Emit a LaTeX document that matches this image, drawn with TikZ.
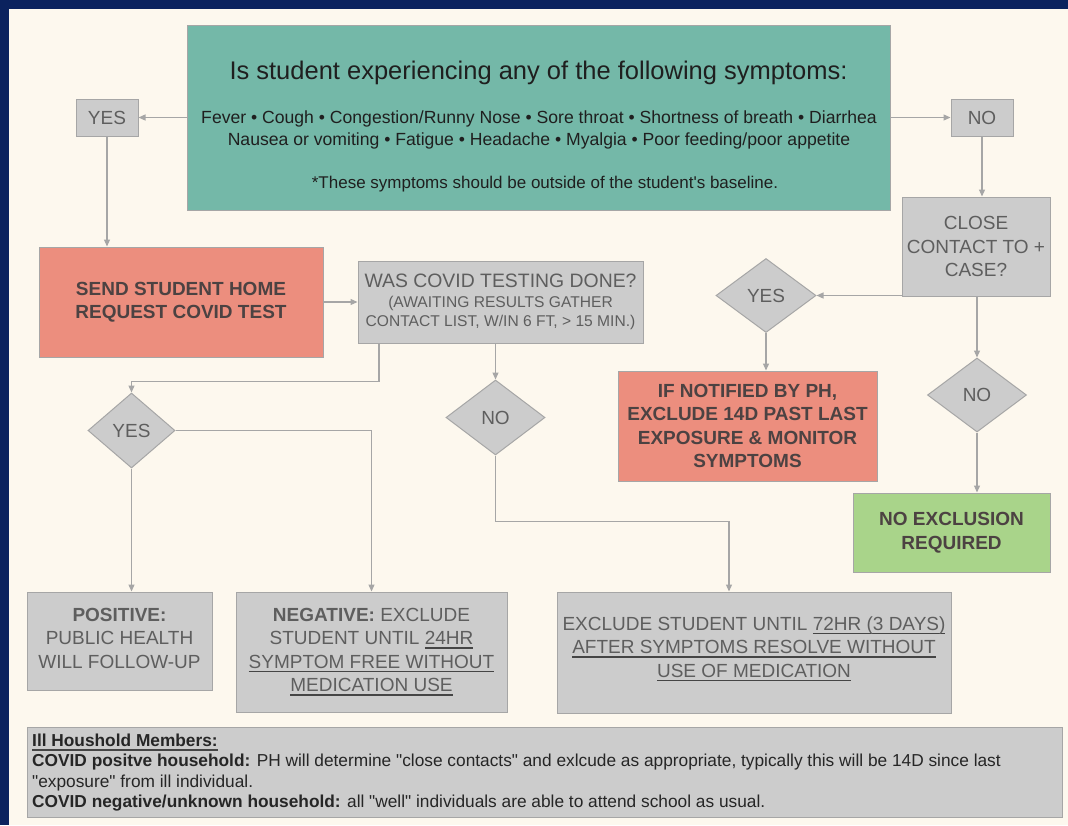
\documentclass[tikz,border=0pt]{standalone}
\usepackage{fontspec}
\setmainfont{Liberation Sans}[Ligatures=TeXOff]
\usetikzlibrary{shapes.geometric,arrows.meta}
\definecolor{navy}{HTML}{0B225E}
\definecolor{cream}{HTML}{FDF8EE}
\definecolor{teal1}{HTML}{74B8A8}
\definecolor{salmon}{HTML}{EC8E7E}
\definecolor{gbox}{HTML}{CCCCCC}
\definecolor{gline}{HTML}{A6A6A6}
\definecolor{green1}{HTML}{A9D48A}
\definecolor{gtext}{HTML}{5E5E5E}
\definecolor{dtext}{HTML}{4C4242}
\definecolor{uline}{HTML}{454545}
\newcommand{\ulx}[1]{\setbox0\hbox{#1}\rlap{\textcolor{uline}{\vrule height -2.2pt depth 3.8pt width \wd0}}\box0}
\tikzset{
  box/.style={draw=gline, line width=1pt, inner sep=0pt, align=center},
  graybox/.style={box, fill=gbox, text=gtext, font=\fontsize{19}{23.5}\selectfont},
  redbox/.style={box, fill=salmon, text=dtext, font=\fontsize{19}{23.3}\selectfont\bfseries},
  dia/.style={diamond, draw=gline, line width=1pt, fill=gbox, inner sep=0pt, text=gtext, font=\fontsize{19}{22}\selectfont},
  arr/.style={draw=gline, line width=1.2pt, -{Triangle[length=7pt,width=6pt]}},
}
\begin{document}
\begin{tikzpicture}[x=1pt,y=-1pt]
\useasboundingbox (0,0) rectangle (1068,825);
\fill[navy] (0,0) rectangle (1068,825);
\fill[cream] (9,9) rectangle (1068,825);

% teal box
\node[box, fill=teal1, minimum width=703pt, minimum height=185pt] (teal) at (538.5,117.5) {};
\node[text=black!88, font=\fontsize{25.5}{30}\selectfont] (title) at (538.5,73) {Is student experiencing any of the following symptoms:};
\node[text=black!88, font=\fontsize{17.6}{22}\selectfont, align=center] (sym) at (539,130) {Fever • Cough • Congestion/Runny Nose • Sore throat • Shortness of breath • Diarrhea\\Nausea or vomiting • Fatigue • Headache • Myalgia • Poor feeding/poor appetite};
\node[text=black!88, font=\fontsize{17}{20}\selectfont] (note) at (545,184) {*These symptoms should be outside of the student's baseline.};

% top yes/no
\node[graybox, minimum width=62pt, minimum height=37pt] (yes) at (107,117.5) {YES};
\node[graybox, minimum width=62pt, minimum height=37pt] (no) at (982,117.5) {NO};

% left branch
\node[redbox, minimum width=284pt, minimum height=110pt] (send) at (181,302) {SEND STUDENT HOME\\REQUEST COVID TEST};
\node[graybox, minimum width=285pt, minimum height=82pt, font=\fontsize{15.6}{19.3}\selectfont] (was) at (500.5,302)
  {{\fontsize{19.4}{22}\selectfont WAS COVID TESTING DONE?}\\
   (AWAITING RESULTS GATHER\\
   CONTACT LIST, W/IN 6 FT, > 15 MIN.)};

\node[dia, minimum width=87pt, minimum height=75pt] (yesl) at (131.5,430.5) {YES};
\node[dia, minimum width=99pt, minimum height=75pt] (nomid) at (495.5,417.5) {NO};

\node[graybox, minimum width=185pt, minimum height=98pt] (pos) at (119.5,641) {};
\node[text=gtext, align=center, font=\fontsize{19}{23.5}\selectfont] (postext) at (119.5,638)
  {\textbf{POSITIVE:}\\PUBLIC HEALTH\\WILL FOLLOW-UP};
\node[graybox, minimum width=271pt, minimum height=120pt] (neg) at (371.5,652)
  {\textbf{NEGATIVE:} EXCLUDE\\STUDENT UNTIL \ulx{24HR}\\\ulx{SYMPTOM FREE WITHOUT}\\\ulx{MEDICATION USE}};
\node[graybox, minimum width=394pt, minimum height=121pt] (excl) at (754,652.5) {};
\node[text=gtext, align=center, font=\fontsize{19}{23.5}\selectfont] (excltext) at (754,649)
  {EXCLUDE STUDENT UNTIL \ulx{72HR (3 DAYS)}\\\ulx{AFTER SYMPTOMS RESOLVE WITHOUT}\\\ulx{USE OF MEDICATION}};

% right branch
\node[graybox, minimum width=148pt, minimum height=99pt] (close) at (976,246.5)
  {CLOSE\\CONTACT TO +\\CASE?};
\node[dia, minimum width=100pt, minimum height=74pt] (ydia) at (766,295.5) {YES};
\node[redbox, minimum width=259pt, minimum height=110pt] (notif) at (747.5,426)
  {IF NOTIFIED BY PH,\\EXCLUDE 14D PAST LAST\\EXPOSURE \& MONITOR\\SYMPTOMS};
\node[dia, minimum width=99pt, minimum height=74pt] (ndia) at (977,395) {NO};
\node[box, fill=green1, text=dtext, font=\fontsize{19}{23.5}\selectfont\bfseries, minimum width=197pt, minimum height=79pt] (noex) at (951.5,532.5)
  {NO EXCLUSION\\REQUIRED};

% household box
\node[graybox, minimum width=1035pt, minimum height=90pt] (house) at (544.5,772) {};
\node[anchor=north west, align=left, inner sep=0pt, text=black!85, font=\fontsize{17.3}{20.2}\selectfont] (housetext) at (32,734)
  {\ulx{\textbf{Ill Houshold Members:}}\\
   \textbf{COVID positve household:} PH will determine "close contacts" and exlcude as appropriate, typically this will be 14D since last\\
   "exposure" from ill individual.\\
   \textbf{COVID negative/unknown household:} all "well" individuals are able to attend school as usual.};

% connectors
\draw[arr] (teal.west) -- (yes.east);
\draw[arr] (teal.east) -- (no.west);
\draw[arr] (yes.south) -- (yes.south |- send.north);
\draw[arr] (send.east) -- (was.west);
\draw[arr] (no.south) -- (no.south |- close.north);
\draw[arr] (close.west |- ydia.east) -- (ydia.east);
\draw[arr] (ydia.south) -- (ydia.south |- notif.north);
\draw[arr] (close.south -| ndia.north) -- (ndia.north);
\draw[arr] (ndia.south) -- (ndia.south |- noex.north);
\draw[arr] ([xshift=-121.5pt]was.south) -- ++(0,38) -| (yesl.north);
\draw[arr] (was.south -| nomid.north) -- (nomid.north);
\draw[arr] (yesl.east) -| (neg.north);
\draw[arr] (yesl.south) -- (yesl.south |- pos.north);
\draw[arr] (nomid.south) -- ++(0,66) -| ([xshift=-25pt]excl.north);
\end{tikzpicture}
\end{document}
